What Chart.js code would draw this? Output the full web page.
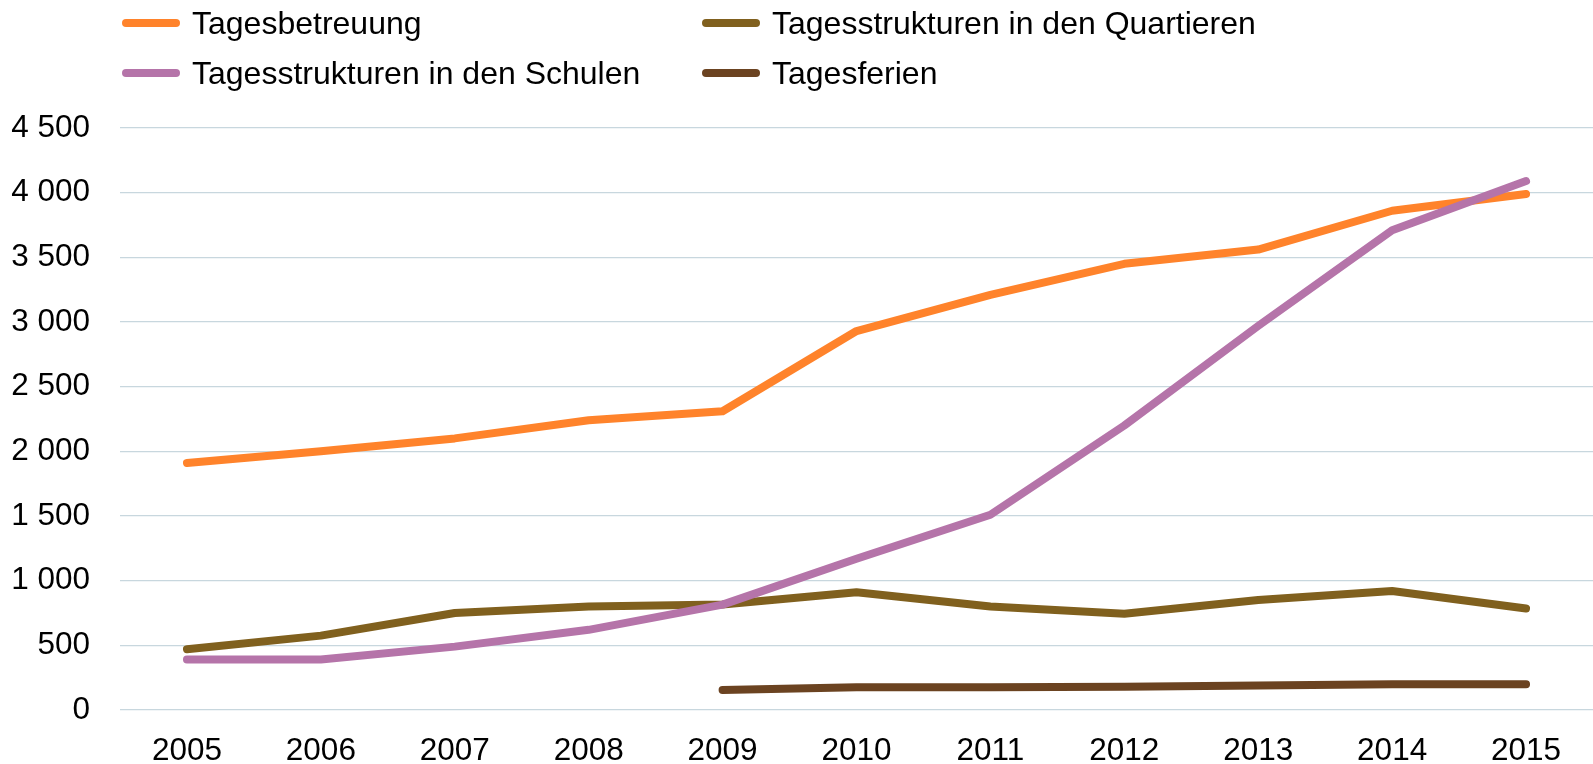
<!DOCTYPE html>
<html>
<head>
<meta charset="utf-8">
<script src="https://cdn.jsdelivr.net/npm/chart.js@4/dist/chart.umd.min.js"></script>
<style>
  html, body { margin: 0; padding: 0; background: #fff; }
  #wrap { position: relative; width: 1593px; height: 764px; }
  #legend { position: absolute; left: 0; top: 0; width: 1593px; height: 110px; font-family: "Liberation Sans", Arial, sans-serif; font-size: 32px; color: #000; }
  .item { position: absolute; height: 36px; line-height: 36px; white-space: nowrap; }
  .swatch { position: absolute; top: 14px; left: 0; width: 58px; height: 8px; border-radius: 4px; }
  .lbl { position: absolute; left: 70px; top: 0; }
</style>
</head>
<body>
<div id="wrap">
  <canvas id="lineChart" width="1593" height="764"></canvas>
  <div id="legend"></div>
</div>
<script>
// years on the x axis
var years = ['2005', '2006', '2007', '2008', '2009', '2010', '2011', '2012', '2013', '2014', '2015'];

// series
var tagesbetreuung = [1910, 2000, 2100, 2240, 2310, 2930, 3210, 3450, 3560, 3860, 3990];
var quartiere      = [470, 575, 750, 800, 815, 910, 800, 745, 850, 920, 785];
var schulen        = [390, 390, 490, 620, 815, 1170, 1510, 2200, 2970, 3710, 4090];
var tagesferien    = [null, null, null, null, 155, 175, 175, 180, 190, 200, 200];

var yTicks = [0, 500, 1000, 1500, 2000, 2500, 3000, 3500, 4000, 4500];

var series = [
    { label: 'Tagesbetreuung', data: tagesbetreuung, color: '#FF832B', order: 1 },
    { label: 'Tagesstrukturen in den Quartieren', data: quartiere, color: '#80601E', order: 2 },
    { label: 'Tagesstrukturen in den Schulen', data: schulen, color: '#B574A9', order: 0 },
    { label: 'Tagesferien', data: tagesferien, color: '#6B4321', order: 3 }
];

// legend: 2 x 2 grid like the original
var legendPos = [[122, 5], [702, 5], [122, 55], [702, 55]];
var legend = document.getElementById('legend');
series.forEach(function(s, i) {
    var item = document.createElement('div');
    item.className = 'item';
    item.style.left = legendPos[i][0] + 'px';
    item.style.top = legendPos[i][1] + 'px';
    item.innerHTML = '<span class="swatch" style="background:' + s.color + '"></span><span class="lbl">' + s.label + '</span>';
    legend.appendChild(item);
});

function fmt(v) {
    return String(v).replace(/\B(?=(\d{3})+(?!\d))/g, ' ');
}

var font = { family: '"Liberation Sans", Arial, sans-serif', size: 31.5 };

var ctx = document.getElementById('lineChart').getContext('2d');
var myChart = new Chart(ctx, {
    type: 'line',
    data: {
        labels: years,
        datasets: series.map(function(s) {
            return {
                label: s.label,
                data: s.data,
                borderColor: s.color,
                backgroundColor: s.color,
                borderWidth: 8,
                borderCapStyle: 'round',
                borderJoinStyle: 'round',
                pointRadius: 0,
                tension: 0,
                order: s.order
            };
        })
    },
    options: {
        responsive: false,
        animation: false,
        layout: { padding: { top: 128, right: 0, left: 0, bottom: 0 } },
        plugins: {
            legend: { display: false },
            tooltip: { enabled: false }
        },
        scales: {
            x: {
                offset: true,
                grid: { display: false, drawTicks: false },
                border: { display: false },
                ticks: { color: '#000', font: font, padding: 22, maxRotation: 0 },
                afterFit: function(scale) { scale.height = 54; }
            },
            y: {
                min: 0,
                max: 4500,
                afterBuildTicks: function(scale) {
                    scale.ticks = yTicks.map(function(v) { return { value: v }; });
                },
                grid: { color: '#C8D7DE', lineWidth: 1.2, drawTicks: false },
                border: { display: false },
                ticks: {
                    color: '#000',
                    font: font,
                    padding: 30,
                    callback: function(v) { return fmt(v); }
                },
                afterFit: function(scale) { scale.width = 120; }
            }
        }
    }
});
</script>
</body>
</html>
